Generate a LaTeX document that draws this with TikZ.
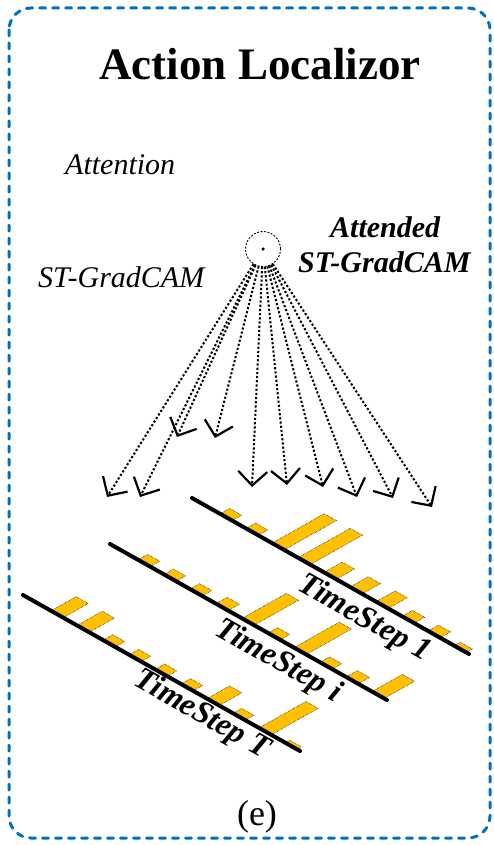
\documentclass[tikz,border=0pt]{standalone}
\usepackage{fontspec}
\setmainfont{Liberation Serif}
\usetikzlibrary{arrows.meta,calc}
\definecolor{bordblue}{HTML}{0070C0}
\definecolor{baryel}{HTML}{FFC000}
\begin{document}
\begin{tikzpicture}[x=1pt,y=-1pt,
  frame/.style={draw=bordblue, line width=3pt, dash pattern=on 6pt off 7pt, line cap=round, rounded corners=22pt},
  title/.style={font=\fontsize{45}{50}\selectfont\bfseries, anchor=base, inner sep=0pt},
  lab/.style={font=\fontsize{30}{34}\selectfont\itshape, anchor=base west, inner sep=0pt},
  blab/.style={font=\fontsize{30}{34}\selectfont\bfseries\itshape, anchor=base west, inner sep=0pt},
  axisline/.style={line width=4pt, line cap=round},
  tslab/.style={font=\fontsize{32}{36}\selectfont\bfseries\itshape, rotate=-29.4, inner sep=0pt},
  barsty/.style={fill=baryel, draw=black, line width=0.5pt, densely dotted},
  attn/.style={draw, circle, minimum size=35pt, inner sep=0pt, dash pattern=on 2pt off 1.5pt, line width=0.9pt},
  arr/.style={line width=2pt, dash pattern=on 2.2pt off 2pt, -{Straight Barb[length=14pt,width=29pt,line width=2.2pt]}}
]
\useasboundingbox (0,0) rectangle (493,845);
\draw[frame] (9,8) rectangle (490,838);

\node[title] (title) at (260,80) {Action Localizor};
\node[lab] (att) at (65,175) {Attention};
\node[lab] (stg) at (38,287) {ST-GradCAM};
\node[blab] (atd) at (330,237) {Attended};
\node[blab] (astg) at (298,272) {ST-GradCAM};

\node[attn] (c) at (263,249) {};
\node[circle, fill, inner sep=0pt, minimum size=3.5pt] (dot) at (c.center) {};

\foreach \i/\x/\y in {1/107/497, 2/140/497, 3/177/437, 4/215/438, 5/252/487,
                      6/287/485, 7/323/487, 8/357/497, 9/393/498, 10/432/507}{
  \coordinate (t\i) at (\x,\y);
  \draw[arr] (c) -- (t\i);
}

\coordinate (S1) at (192,498); \coordinate (E1) at (469,654);
\coordinate (S2) at (110,544); \coordinate (E2) at (387,700);
\coordinate (S3) at (23,595);  \coordinate (E3) at (300,751);

\foreach \l/\lens in {1/{9,9,58,58,19,19,20,10,10,5},
                      2/{9,9,9,11,49,9,50,9,11,33},
                      3/{27,27,9,9,9,9,24,8,52,3}}{
  \foreach \L [count=\k from 0] in \lens {
    \coordinate (p) at ($(S\l)!{(28+26*\k)/277}!(E\l)$);
    \filldraw[barsty] (p) -- ++(12.2,6.9) -- ++({0.87*(\L+2)},{-0.49*(\L+2)}) -- ++(-12.2,-6.9) -- cycle;
  }
}

\draw[axisline] (S1) -- (E1);
\draw[axisline] (S2) -- (E2);
\draw[axisline] (S3) -- (E3);

\node[tslab] (ts1) at (364,619) {TimeStep 1};
\node[tslab] (tsi) at (278,662) {TimeStep \textit{i}};
\node[tslab] (tsT) at (202,715) {TimeStep \textit{T}};

\node[font=\fontsize{36}{40}\selectfont, anchor=base, inner sep=0pt] (e) at (257,825) {(e)};
\end{tikzpicture}
\end{document}
